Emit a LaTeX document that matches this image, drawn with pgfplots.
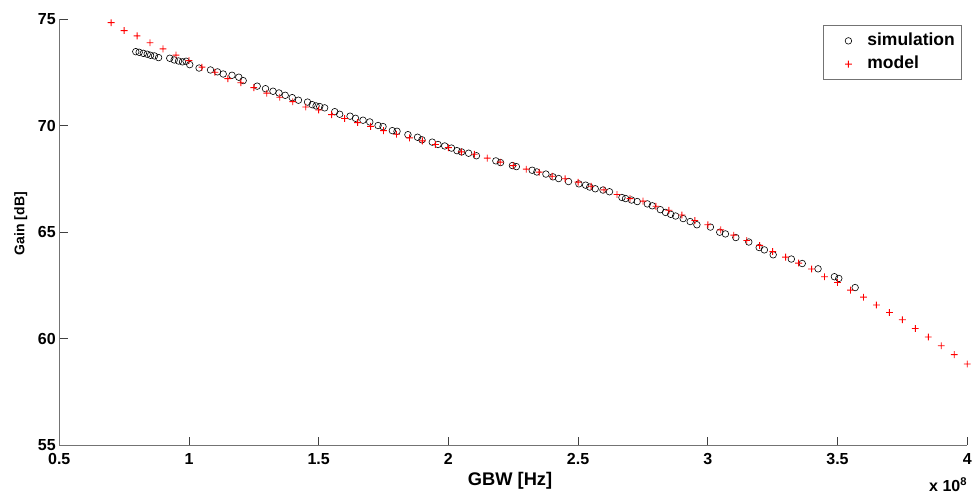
\documentclass[border=0pt]{standalone}
\usepackage{fontspec}
\setmainfont{Liberation Sans}
\usepackage{pgfplots}
\pgfplotsset{compat=1.18}

% filled plus, so the mark is a fill and not a stroke
\pgfdeclareplotmark{fplus}{%
  \pgfpathrectangle{\pgfpoint{-\pgfplotmarksize}{-0.45pt}}{\pgfpoint{2\pgfplotmarksize}{0.9pt}}%
  \pgfpathrectangle{\pgfpoint{-0.45pt}{-\pgfplotmarksize}}{\pgfpoint{0.9pt}{2\pgfplotmarksize}}%
  \pgfusepathqfill}

\begin{document}
\begin{tikzpicture}
\begin{axis}[
  at={(0,0)}, anchor=south west,
  scale only axis, width=908.7pt, height=426.2pt,
  xmin=0.5, xmax=4, ymin=55, ymax=75,
  axis lines*=left, clip=false,
  axis line style={black!55, line width=0.9pt},
  tick align=inside, major tick length=8.5pt,
  tick style={black!75, line width=0.8pt},
  xtick={0.5,1,1.5,2,2.5,3,3.5,4},
  xticklabels={0.5,1,1.5,2,2.5,3,3.5,4},
  ytick={55,60,65,70,75},
  /pgf/number format/assume math mode=true,
  ticklabel style={font=\fontsize{16}{18}\selectfont\bfseries},
  xticklabel style={yshift=-5pt},
  xlabel={GBW [Hz]}, ylabel={Gain [dB]},
  xlabel style={font=\fontsize{18.3}{21}\selectfont\bfseries,
    at={(axis description cs:0.4965,-0.0939)}, anchor=base},
  ylabel style={font=\fontsize{14}{17}\selectfont\bfseries,
    at={(axis description cs:-0.0383,0.52)}, anchor=base},
  legend style={at={(1,1)}, anchor=north east, xshift=-5pt, yshift=-5.7pt,
    draw=black!55, line width=0.8pt, font=\fontsize{17.5}{20}\selectfont\bfseries,
    inner xsep=2pt, inner ysep=8pt, row sep=8.3pt,
    nodes={inner ysep=0pt, inner xsep=5pt, text height=12pt, text depth=3pt}},
  legend cell align=left,
  legend image code/.code={%
    \pgfpathmoveto{\pgfpoint{-22.7pt}{0pt}}\pgfpathlineto{\pgfpoint{14pt}{0pt}}%
    \pgfusepath{discard}%
    \draw[mark repeat=2,mark phase=2,#1] plot coordinates {(-12pt,0pt) (0pt,0pt) (12pt,0pt)};},
]
\addplot[black, only marks, mark=o, mark size=3.3pt, mark options={line width=0.6pt}] coordinates {
(0.795,73.48) (0.808,73.45) (0.824,73.40) (0.839,73.36) (0.852,73.31) (0.867,73.28)
(0.883,73.20) (0.926,73.17) (0.943,73.09) (0.960,73.04) (0.975,73.00) (0.989,73.03)
(1.003,72.87) (1.039,72.71) (1.083,72.62) (1.110,72.53) (1.132,72.43) (1.166,72.37)
(1.192,72.28) (1.209,72.12) (1.263,71.86) (1.295,71.74) (1.324,71.62) (1.347,71.54)
(1.371,71.43) (1.398,71.32) (1.422,71.20) (1.457,71.11) (1.475,70.99) (1.490,70.93)
(1.504,70.90) (1.523,70.84) (1.562,70.66) (1.581,70.54) (1.621,70.45) (1.642,70.35)
(1.671,70.26) (1.697,70.18) (1.729,70.01) (1.748,69.96) (1.784,69.77) (1.802,69.74)
(1.844,69.58) (1.881,69.46) (1.898,69.34) (1.938,69.23) (1.960,69.12) (1.986,69.05)
(2.012,68.95) (2.033,68.83) (2.051,68.77) (2.078,68.71) (2.108,68.59) (2.183,68.35)
(2.201,68.27) (2.247,68.13) (2.262,68.08) (2.323,67.91) (2.341,67.83) (2.376,67.73)
(2.403,67.60) (2.425,67.52) (2.463,67.38) (2.503,67.27) (2.529,67.21) (2.545,67.12)
(2.566,67.04) (2.596,66.98) (2.621,66.90) (2.669,66.63) (2.683,66.58) (2.706,66.51)
(2.728,66.44) (2.767,66.33) (2.786,66.24) (2.817,66.06) (2.837,65.93) (2.857,65.84)
(2.876,65.76) (2.905,65.64) (2.932,65.50) (2.958,65.35) (3.010,65.24) (3.046,65.00)
(3.068,64.92) (3.108,64.75) (3.158,64.54) (3.198,64.28) (3.218,64.17) (3.252,63.94)
(3.322,63.74) (3.364,63.53) (3.425,63.28) (3.488,62.91) (3.505,62.83) (3.568,62.40)
};
\addlegendentry{simulation}
\addplot[red, only marks, mark=fplus, mark size=3.4pt] coordinates {
(0.70,74.84) (0.75,74.47) (0.80,74.22) (0.85,73.90) (0.90,73.61) (0.95,73.32)
(1.00,73.06) (1.05,72.75) (1.10,72.51) (1.15,72.21) (1.20,72.02) (1.25,71.79)
(1.30,71.53) (1.35,71.34) (1.40,71.13) (1.45,70.88) (1.50,70.74) (1.55,70.52)
(1.60,70.34) (1.65,70.15) (1.70,69.97) (1.75,69.77) (1.80,69.60) (1.85,69.43)
(1.90,69.29) (1.95,69.12) (2.00,68.97) (2.05,68.77) (2.10,68.66) (2.15,68.48)
(2.20,68.29) (2.25,68.13) (2.30,67.96) (2.35,67.82) (2.40,67.63) (2.45,67.51)
(2.50,67.35) (2.55,67.16) (2.60,66.99) (2.65,66.77) (2.70,66.58) (2.75,66.46)
(2.80,66.22) (2.85,66.03) (2.90,65.81) (2.95,65.55) (3.00,65.35) (3.05,65.11)
(3.10,64.86) (3.15,64.61) (3.20,64.38) (3.25,64.09) (3.30,63.83) (3.35,63.55)
(3.40,63.27) (3.45,62.91) (3.50,62.64) (3.55,62.28) (3.60,61.95) (3.65,61.58)
(3.70,61.23) (3.75,60.89) (3.80,60.48) (3.85,60.08) (3.90,59.67) (3.95,59.25)
(4.00,58.81)
};
\addlegendentry{model}
\node[anchor=base east, font=\fontsize{16}{18}\selectfont\bfseries, inner sep=0pt]
  at (axis description cs:1,-0.1095) {x 10\textsuperscript{8}};
\end{axis}
\path (-59.3pt,-49.5pt) rectangle (915.7pt,445.5pt);
\end{tikzpicture}
\end{document}
